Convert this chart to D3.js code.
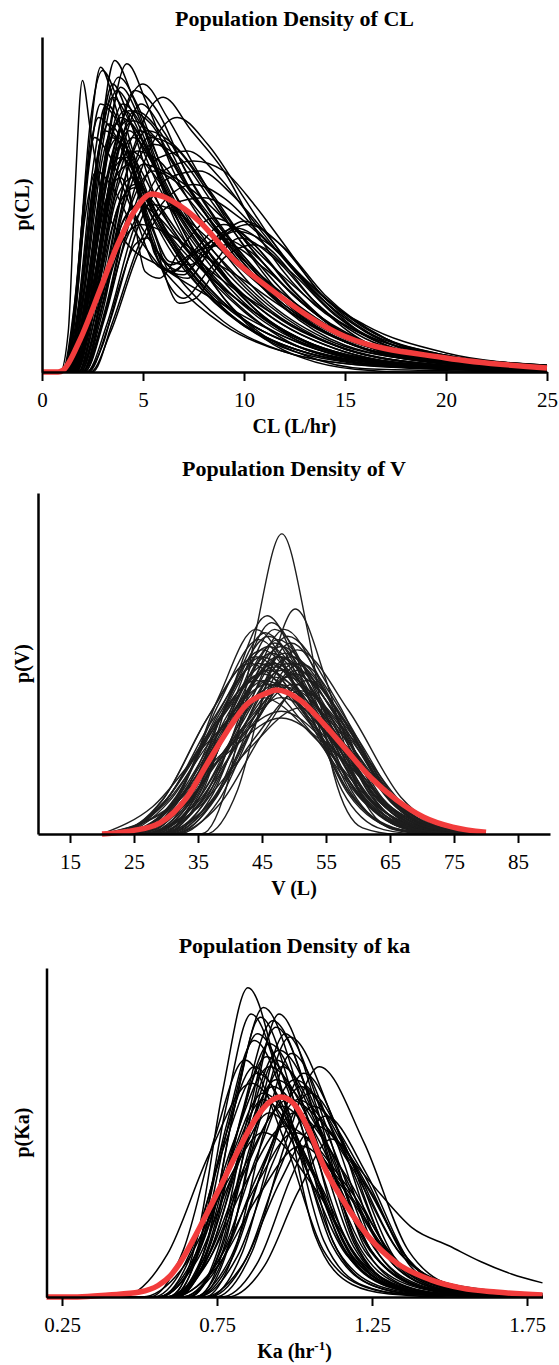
<!DOCTYPE html>
<html>
<head>
<meta charset="utf-8">
<script src="https://cdn.jsdelivr.net/npm/d3@7.9.0/dist/d3.min.js"></script>
<style>
  body { margin: 0; background: #fff; }
  text { font-family: "Liberation Serif", "Times New Roman", serif; fill: #000; }
</style>
</head>
<body>
<svg id="chart" width="559" height="1365"></svg>
<script>
// ---- data: each curve is a list of [x, relative density] knots ----

// CL (L/hr)
const clTicks = [0, 5, 10, 15, 20, 25];
const clMean = [[0,0],[0.8,0],[1.06,0.6],[1.88,9.6],[2.87,24.5],[3.7,37.4],[4.52,47.5],[5.43,53.1],[6.83,49.6],[7.82,44.8],[9.47,33.7],[11.1,25.7],[15,10.6],[20,4.2],[25,1.2]];
const clCurves = [
  [[0,0],[0.9,0],[1.3,12],[1.6,50],[2.0,87],[2.4,72],[3.0,52],[4,40],[6,31],[9,20],[13,8],[18,2],[25,0.5]],
  [[0,0],[1.2,0],[1.7,20],[2.3,65],[2.9,91],[3.6,80],[4.5,60],[6,40],[8,24],[11,10],[15,3],[20,0.8],[25,0.2]],
  [[0,0],[1.3,0],[2,20],[2.8,65],[3.6,93],[4.5,82],[6,58],[8,38],[10,22],[13,9],[17,3],[25,0.5]],
  [[0,0],[1.5,0],[2.3,18],[3.2,65],[4.2,92],[5.2,80],[6.5,60],[8.5,40],[11,22],[14,10],[18,4],[25,1]],
  [[0,0],[1.6,0],[2.5,20],[3.6,65],[5,86],[6.2,76],[7.5,62],[9.5,42],[12,22],[15,10],[20,3.5],[25,1.2]],
  [[0,0],[1.8,0],[2.8,18],[4.2,60],[6,82],[7.4,72],[9,60],[11,38],[13.5,20],[16,11],[20,5],[25,2]],
  [[0,0],[2,0],[3,15],[4.6,55],[6.7,76],[8.2,68],[10,52],[12,34],[15,15],[18,7],[25,2]],
  [[0,0],[1.1,0],[1.8,20],[2.5,60],[3.2,80],[4,72],[5.2,52],[7,32],[9.5,16],[13,6],[18,1.5],[25,0.3]],
  [[0,0],[1.2,0],[2.0,15],[3.0,60],[3.9,85],[4.8,76],[6.2,52],[8,32],[10.5,16],[14,5],[20,1],[25,0.3]],
  [[0,0],[1.4,0],[2.4,22],[3.4,58],[4.5,75],[5.6,70],[7.2,55],[9.5,36],[12,20],[15,9],[20,3],[25,1]],
  [[0,0],[1.0,0],[1.6,18],[2.1,52],[2.6,70],[3.3,65],[4.5,48],[6.5,30],[9,15],[12,6],[16,2],[25,0.2]],
  [[0,0],[1.3,0],[2.1,18],[2.8,50],[3.4,70],[4.3,66],[5.8,50],[8,32],[11,15],[15,5],[20,1.5],[25,0.5]],
  [[0,0],[1.5,0],[2.4,25],[3.3,60],[4.0,68],[4.8,55],[5.6,35],[6.5,30],[7.5,36],[9,44],[10.5,38],[12.5,24],[15,11],[19,4],[25,1]],
  [[0,0],[1.6,0],[2.6,25],[3.6,58],[4.4,62],[5.3,42],[6.2,27],[7.0,22],[8.2,30],[9.8,40],[11.5,34],[13.5,21],[16,10],[20,4],[25,1.5]],
  [[0,0],[1.8,0],[2.8,22],[3.8,50],[4.6,55],[5.5,40],[6.8,20.5],[7.6,22],[9,34],[10.5,38],[12.3,30],[14.5,17],[17,8],[21,3],[25,1.3]],
  [[0,0],[2.0,0],[3.0,18],[4.0,45],[4.8,50],[5.5,42],[6.3,30],[7.2,28],[8.5,38],[10,45],[11.8,38],[14,22],[17,9],[21,3],[25,1]],
  [[0,0],[2.2,0],[3.0,8],[3.8,25],[4.6,38],[5.2,40],[6,33],[7,30],[8.2,36],[9.6,42],[11.5,37],[13.5,24],[16,11],[20,4],[25,1.5]],
  [[0,0],[2.5,0],[3.5,15],[4.8,38],[6.2,52],[7.5,56],[9,52],[11,40],[13.5,25],[16,13],[20,5],[25,1.8]],
  [[0,0],[2.2,0],[3.2,14],[4.5,42],[6,60],[7.5,63],[9,60],[10.5,50],[12,38],[14,22],[16,14],[20,5.7],[25,2]],
  [[0,0],[1.9,0],[2.9,20],[4.2,55],[5.5,68],[6.8,64],[8.5,50],[10.5,34],[13,18],[16,8],[20,3],[25,1]],
  [[0,0],[1.2,0],[1.9,22],[2.6,58],[3.3,74],[4.1,68],[5.4,50],[7.2,33],[9.5,18],[12.5,8],[17,2.5],[25,0.5]],
  [[0,0],[1.0,0],[1.5,12],[2.1,45],[2.7,60],[3.4,56],[4.6,42],[6.5,27],[9,14],[12,6],[17,1.5],[25,0.2]],
  [[0,0],[2.1,0],[3.1,18],[4.3,48],[5.5,60],[6.8,56],[8.5,44],[10.5,30],[13,16],[16,7],[20,2.5],[25,0.8]],
  [[0,0],[1.4,0],[2.2,25],[3.1,62],[3.8,70],[4.5,48],[5.1,30],[5.8,28],[7,38],[8.5,46],[10.2,40],[12.3,25],[15,11],[19,3.5],[25,0.8]],
  [[0,0],[1.7,0],[2.6,28],[3.5,60],[4.2,64],[5.0,47],[6.0,31],[7.0,29],[8.2,38],[9.6,43],[11.4,36],[13.5,21],[16,9],[20,3],[25,1]],
  [[0,0],[1.1,0],[1.7,25],[2.4,75],[3.0,90],[3.7,82],[4.8,60],[6.5,38],[9,19],[12,8],[17,2],[25,0.3]],
  [[0,0],[1.3,0],[2.0,20],[2.9,68],[3.8,88],[4.7,80],[6,60],[8,38],[10.5,19],[14,6],[19,1.5],[25,0.3]],
  [[0,0],[1.5,0],[2.3,15],[3.4,55],[4.6,78],[5.8,72],[7.3,55],[9.5,35],[12,19],[15,8],[20,2.5],[25,0.8]],
  [[0,0],[1.6,0],[2.5,20],[3.5,55],[4.5,70],[5.5,62],[7,42],[9,22],[11,10],[13,4],[15.5,0.8],[18,0],[25,0]],
  [[0,0],[1.4,0],[2.2,18],[3.2,58],[4.2,75],[5.2,66],[6.6,45],[8.5,26],[10.5,13],[13,5],[16,1],[25,0]],
  [[0,0],[1.2,0],[1.9,20],[2.7,62],[3.5,82],[4.4,74],[5.8,55],[7.8,36],[10.5,18],[14,7],[19,2],[25,0.5]],
  [[0,0],[1.4,0],[2.2,20],[3.1,60],[4.0,80],[5.0,73],[6.5,54],[8.5,36],[11,20],[14.5,8],[19,2.5],[25,0.6]],
  [[0,0],[1.7,0],[2.6,22],[3.8,62],[4.9,80],[6.0,72],[7.6,55],[9.8,36],[12.5,19],[16,8],[20,3],[25,1]],
  [[0,0],[1.3,0],[2.0,25],[2.8,66],[3.5,86],[4.3,76],[5.5,54],[7.5,34],[10,18],[13.5,7],[18,2],[25,0.4]],
  [[0,0],[1.5,0],[2.4,28],[3.3,66],[4.1,78],[5.1,68],[6.6,50],[8.8,32],[11.5,17],[15,7],[20,2],[25,0.6]],
  [[0,0],[1.9,0],[2.9,22],[4.0,55],[5.2,72],[6.5,68],[8.2,55],[10.2,38],[12.8,21],[16,9],[20,3.5],[25,1.2]],
  [[0,0],[1.2,0],[1.8,18],[2.5,55],[3.1,72],[3.9,68],[5.1,52],[7,34],[9.5,18],[13,7],[18,2],[25,0.4]],
  [[0,0],[1.6,0],[2.5,24],[3.5,60],[4.3,72],[5.3,64],[6.8,46],[8.8,30],[11.2,17],[14.5,7],[19,2],[25,0.6]],
  [[0,0],[1.5,0],[2.3,22],[3.2,52],[3.9,58],[4.7,45],[5.5,33],[6.4,30],[7.5,35],[8.8,40],[10.3,36],[12.3,24],[15,11],[19,4],[25,1]],
  [[0,0],[1.8,0],[2.7,22],[3.7,52],[4.5,58],[5.3,46],[6.3,33],[7.3,32],[8.6,39],[10.2,44],[12,37],[14,23],[17,10],[21,3.5],[25,1.3]],
  [[0,0],[1.3,0],[2.1,24],[3.0,64],[3.7,74],[4.5,60],[5.4,40],[6.4,32],[7.6,36],[9.2,38],[11,31],[13.2,19],[16,8],[20,2.5],[25,0.7]],
  [[0,0],[2.0,0],[3.0,20],[4.1,50],[5.0,62],[6.0,60],[7.5,54],[9.3,44],[11.5,31],[14,18],[17,8],[21,3],[25,1.2]],
  [[0,0],[1.1,0],[1.7,20],[2.3,60],[2.9,80],[3.6,76],[4.7,58],[6.4,38],[8.8,20],[12,8],[17,2],[25,0.3]],
  [[0,0],[1.4,0],[2.2,18],[3.2,56],[4.3,78],[5.4,74],[6.9,58],[9,40],[11.5,22],[15,9],[20,3],[25,0.9]],
  [[0,0],[1.6,0],[2.5,18],[3.7,56],[4.8,72],[5.9,68],[7.4,54],[9.5,38],[12,22],[15.5,9],[20,3.5],[25,1.2]],
  [[0,0],[1.2,0],[2.0,22],[2.9,64],[3.7,84],[4.6,76],[6,56],[8,36],[10.5,19],[14,7],[19,2],[25,0.4]],
  [[0,0],[1.7,0],[2.6,20],[3.6,52],[4.7,66],[5.8,63],[7.2,52],[9.2,38],[11.8,24],[15,11],[19,4.5],[25,1.5]],
  [[0,0],[1.0,0],[1.6,20],[2.2,58],[2.8,76],[3.5,72],[4.7,55],[6.6,36],[9,20],[12.5,8],[17,2],[25,0.3]],
  [[0,0],[1.5,0],[2.4,20],[3.5,62],[4.6,84],[5.7,78],[7.1,60],[9.2,40],[11.8,22],[15,10],[20,3.2],[25,1]],
  [[0,0],[1.3,0],[2.1,20],[3.0,58],[3.9,76],[4.9,70],[6.3,52],[8.3,34],[11,18],[14.5,7],[19,2],[25,0.5]],
  [[0,0],[1.8,0],[2.7,18],[3.8,42],[4.8,50],[5.8,46],[7.2,36],[9,25],[11,16],[13.5,8],[17,3],[25,0.5]],
  [[0,0],[2.0,0],[3.0,15],[4.2,40],[5.4,50],[6.6,48],[8.2,40],[10,30],[12,20],[15,9],[19,3],[25,0.8]],
  [[0,0],[2.3,0],[3.3,14],[4.8,44],[6.3,58],[7.8,60],[9.4,53],[11,42],[13,27],[16,12],[20,4.5],[25,1.5]],
  [[0,0],[2.1,0],[3.1,16],[4.4,46],[5.8,64],[7.2,66],[8.8,58],[10.6,44],[12.8,28],[15.5,14],[20,5],[25,1.6]],
  [[0,0],[1.7,0],[2.6,20],[3.7,48],[4.6,56],[5.6,50],[7,38],[8.8,28],[11,19],[14,9],[18,3],[25,0.8]],
  [[0,0],[1.9,0],[2.8,16],[3.9,38],[4.9,44],[6,42],[7.6,36],[9.6,29],[12,19],[15,9],[19,3.5],[25,1]],
  [[0,0],[1.6,0],[2.5,22],[3.5,56],[4.4,66],[5.4,60],[6.9,47],[8.8,34],[11.2,20],[14.5,8],[19,2.5],[25,0.6]],
  [[0,0],[2.4,0],[3.4,12],[4.8,36],[6.4,50],[8,52],[9.8,46],[11.8,35],[14,22],[17,10],[21,3.5],[25,1.4]],
  [[0,0],[1.4,0],[2.2,22],[3.1,56],[3.9,64],[4.9,56],[6.2,42],[8,30],[10.5,18],[13.5,8],[18,2],[25,0.4]],
  [[0,0],[2.0,0],[2.9,18],[4.1,52],[5.3,70],[6.6,67],[8.2,54],[10.2,38],[12.6,22],[15.5,10],[20,3.5],[25,1.1]]
];

// V (L)
const vTicks = [15, 25, 35, 45, 55, 65, 75, 85];
const vMean = [[20,0],[24.8,1],[29,3.2],[33.3,10.8],[36.4,20.5],[39.5,30],[42.6,38],[45.7,41.3],[47.3,42.2],[50.9,39.3],[54.5,32.6],[58.2,24.6],[61.9,16.7],[66,10],[70.2,5],[74.8,2],[80,0.5]];
const vCurves = [
  [[20,0],[35.5,0],[40,17.6],[44,59],[48.1,88],[52.2,59],[56.2,17.6],[60.7,1.8],[66,0],[80,0]],
  [[20,0],[36.2,0],[41.2,13],[45.7,44],[50.2,66],[55.2,44],[60.1,13],[65.6,1.3],[71,0],[80,0]],
  [[20,0],[29,0],[35,12.8],[40.4,43],[45.8,64],[51.7,43],[57.5,12.8],[64,1.3],[70,0],[80,0]],
  [[20,0],[28.8,0],[35.3,12],[41.2,40],[47,60],[53.8,40],[60.5,12],[68,1.2],[74,0],[80,0]],
  [[20,0],[24.9,0],[31.9,11.4],[38.2,38],[44.5,57],[51.7,38],[58.9,11.4],[66.9,1.1],[74,0],[80,0]],
  [[20,0],[30.8,0],[37.3,11.6],[43.2,39],[49,58],[56.7,39],[64.3,11.6],[72.8,1.2],[80,0.2]],
  [[20,0],[25,0],[32.5,11],[39.3,37],[46,55],[53.7,37],[61.3,11],[69.8,1.1],[80,0.1]],
  [[20,0],[28.9,0],[35.9,10.6],[42.2,35.5],[48.5,53],[56.2,35.5],[63.8,10.6],[72.3,1.1],[80,0.2]],
  [[20,0],[21.6,0],[29.6,10.4],[36.8,35],[44,52],[51.7,35],[59.3,10.4],[67.8,1],[80,0]],
  [[20,0],[31.8,0],[38.3,10],[44.2,33.5],[50,50],[57.7,33.5],[65.3,10],[73.8,1],[80,0.3]],
  [[20,0],[23.2,0],[31.7,9.8],[39.4,32.8],[47,49],[55.1,32.8],[63.2,9.8],[72.2,1],[80,0.2]],
  [[20,0],[21.2,0],[29.7,9.4],[37.4,31.5],[45,47],[53.1,31.5],[61.2,9.4],[70.2,0.9],[80,0]],
  [[20,0],[26.6,0],[34.6,9.2],[41.8,30.8],[49,46],[57.1,30.8],[65.2,9.2],[74.2,0.9],[80,0.3]],
  [[20,0],[22.3,0],[31.3,8.8],[39.4,29.5],[47.5,44],[55.6,29.5],[63.7,8.8],[72.7,0.9],[80,0.2]],
  [[20,0],[24.2,0],[32.7,8],[40.4,26.8],[48,40],[56.6,26.8],[65.1,8],[74.6,0.8],[80,0.3]],
  [[20,0],[25.8,0],[34.8,7.4],[42.9,24.8],[51,37],[58.7,24.8],[66.3,7.4],[74.8,0.7],[80,0.2]],
  [[20,0],[30,6.8],[39,22.8],[48,34],[57,22.8],[66,6.8],[76,0.7],[80,0.4]],
  [[20,0],[31,0],[38.5,9],[45.3,30],[52,45],[59.2,30],[66.4,9],[74.4,0.9],[80,0]],
  [[20,0],[22,0],[29.5,10],[36.3,33.5],[43,50],[52,33.5],[61,10],[71,1],[80,0]],
  [[20,0],[29.7,0],[35.7,12.4],[41.1,41.5],[46.5,62],[52.8,41.5],[59.1,12.4],[66.1,1.2],[72,0],[80,0]],
  [[20,0],[31.3,0],[37.8,11.2],[43.7,37.5],[49.5,56],[56.3,37.5],[63,11.2],[70.5,1.1],[77,0],[80,0]],
  [[20,0],[28.6,0],[36.6,8.4],[43.8,28],[51,42],[59.1,28],[67.2,8.4],[76.2,0.8],[80,0.5]],
  [[20,0],[27.9,8],[36.5,26.8],[45,40],[54,26.8],[63,8],[73,0.8],[80,0.2]],
  [[20,0],[30,7.2],[39,24],[48,36],[56.6,24],[65.1,7.2],[74.6,0.7],[80,0.3]],
  [[20,0],[26.5,0],[34,10.4],[40.8,34.8],[47.5,52],[55.6,34.8],[63.7,10.4],[72.7,1],[80,0.1]],
  [[20,0],[23.1,0],[31.1,9],[38.3,30],[45.5,45],[54.1,30],[62.6,9],[72.1,0.9],[80,0.1]],
  [[20,0],[30.9,0],[37.9,10.8],[44.2,36],[50.5,54],[58.6,36],[66.7,10.8],[75.7,1.1],[80,0.4]],
  [[20,0],[25.8,0],[32.3,12],[38.2,40],[44,60],[51.2,40],[58.4,12],[66.4,1.2],[72,0],[80,0]],
  [[20,0],[26.4,0],[33.4,11.6],[39.7,39],[46,58],[53.2,39],[60.4,11.6],[68.4,1.2],[80,0]],
  [[20,0],[27,0],[34.5,11],[41.3,37],[48,55],[55.7,37],[63.3,11],[71.8,1.1],[80,0.1]],
  [[20,0],[27.1,0],[35.1,10.4],[42.3,35],[49.5,52],[57.2,35],[64.8,10.4],[73.3,1],[80,0.2]],
  [[20,0],[24,0],[31.5,10.8],[38.3,36],[45,54],[52.7,36],[60.3,10.8],[68.8,1.1],[80,0]],
  [[20,0],[24.6,0],[32.6,10],[39.8,33.5],[47,50],[55.1,33.5],[63.2,10],[72.2,1],[80,0.1]],
  [[20,0],[27.6,0],[35.6,9.4],[42.8,31.5],[50,47],[58.1,31.5],[66.2,9.4],[75.2,0.9],[80,0.3]],
  [[20,0],[20.8,0],[29.8,9.6],[37.9,32],[46,48],[54.1,32],[62.2,9.6],[71.2,1],[80,0]],
  [[20,0],[30.3,0],[36.8,12],[42.7,40],[48.5,60],[55.3,40],[62,12],[69.5,1.2],[80,0]],
  [[20,0],[27.9,0],[34.9,11.4],[41.2,38],[47.5,57],[54.7,38],[61.9,11.4],[69.9,1.1],[80,0]],
  [[20,0],[22.1,0],[30.1,10],[37.3,33.5],[44.5,50],[52.6,33.5],[60.7,10],[69.7,1],[80,0]],
  [[20,0],[30,0],[37.5,10],[44.3,33.5],[51,50],[58.2,33.5],[65.4,10],[73.4,1],[80,0.2]],
  [[20,0],[23.2,0],[31.7,9.2],[39.4,30.8],[47,46],[55.6,30.8],[64.1,9.2],[73.6,0.9],[80,0.2]],
  [[20,0],[23.8,0],[32.8,8.6],[40.9,28.8],[49,43],[57.6,28.8],[66.1,8.6],[75.6,0.9],[80,0.3]],
  [[20,0],[25.5,0],[33,10.6],[39.8,35.5],[46.5,53],[53.7,35.5],[60.9,10.6],[68.9,1.1],[80,0]],
  [[20,0],[28.4,0],[35.4,9.6],[41.7,32],[48,48],[55.7,32],[63.3,9.6],[71.8,1],[80,0.1]],
  [[20,0],[27.3,0],[33.8,11.8],[39.7,39.5],[45.5,59],[52.3,39.5],[59,11.8],[66.5,1.2],[80,0]],
  [[20,0],[26.2,0],[34.7,8.8],[42.4,29.5],[50,44],[58.1,29.5],[66.2,8.8],[75.2,0.9],[80,0.3]],
  [[20,0],[22.2,0],[30.7,10],[38.4,33.5],[46,50],[54.1,33.5],[62.2,10],[71.2,1],[80,0]],
  [[20,0],[25.6,0],[33.6,10.4],[40.8,35],[48,52],[55.2,35],[62.4,10.4],[70.4,1],[80,0]],
  [[20,0],[21.6,0],[29.6,9],[36.8,30],[44,45],[52.6,30],[61.1,9],[70.6,0.9],[80,0]],
  [[20,0],[29.5,0],[37,9.6],[43.8,32],[50.5,48],[58.2,32],[65.8,9.6],[74.3,1],[80,0.2]],
  [[20,0],[27.4,0],[34.4,11.2],[40.7,37.5],[47,56],[54.2,37.5],[61.4,11.2],[69.4,1.1],[80,0]],
  [[20,0],[20.8,0],[29.8,8.8],[37.9,29.5],[46,44],[55,29.5],[64,8.8],[74,0.9],[80,0.2]],
  [[20,0],[29.4,0],[36.4,10],[42.7,33.5],[49,50],[57.1,33.5],[65.2,10],[74.2,1],[80,0.2]],
  [[20,0],[24,0],[31.5,10.4],[38.3,35],[45,52],[53.1,35],[61.2,10.4],[70.2,1],[80,0]]
];

// Ka (1/hr)
const kaTicks = [0.25, 0.75, 1.25, 1.75];
const kaMean = [[0.2,0],[0.3,0],[0.4,0.6],[0.5,1.5],[0.56,3.5],[0.6,6.5],[0.63,10.3],[0.695,21.3],[0.76,33.4],[0.824,45.6],[0.87,53.5],[0.92,59.3],[0.955,60.8],[1.0,58.5],[1.05,50],[1.09,40.7],[1.17,27.4],[1.24,18.2],[1.33,10.3],[1.44,5.2],[1.54,2.7],[1.65,1.5],[1.8,0.6]];
const kaCurves = [
  [[0.2,0],[0.6,0],[0.688,18.8],[0.769,63],[0.85,94],[0.958,63],[1.066,18.8],[1.186,3.8],[1.306,0.9],[1.5,0],[1.8,0]],
  [[0.2,0],[0.62,0],[0.72,17.6],[0.81,59],[0.9,88],[1.026,59],[1.152,17.6],[1.292,3.5],[1.432,0.9],[1.8,0.1]],
  [[0.2,0],[0.622,0],[0.732,16.8],[0.831,56],[0.93,84],[1.065,56],[1.2,16.8],[1.35,3.4],[1.5,0.8],[1.8,0.1]],
  [[0.2,0],[0.677,0],[0.787,15.8],[0.886,53],[0.985,79],[1.129,53],[1.273,15.8],[1.433,3.2],[1.593,0.8],[1.8,0.2]],
  [[0.2,0],[0.744,0],[0.864,14],[0.972,47],[1.08,70],[1.224,47],[1.368,14],[1.528,2.8],[1.688,0.7],[1.8,0.3]],
  [[0.2,0],[0.6,0],[0.7,16],[0.79,53.6],[0.88,80],[1.015,53.6],[1.15,16],[1.3,3.2],[1.45,0.8],[1.8,0.1]],
  [[0.2,0],[0.614,0],[0.734,15],[0.842,50],[0.95,75],[1.103,50],[1.256,15],[1.426,3],[1.596,0.75],[1.8,0.2]],
  [[0.2,0],[0.556,0],[0.686,14],[0.803,47],[0.92,70],[1.082,47],[1.244,14],[1.424,2.8],[1.604,0.7],[1.8,0.2]],
  [[0.2,0],[0.636,0],[0.766,13.2],[0.883,44],[1,66],[1.171,44],[1.342,13.2],[1.532,2.6],[1.722,0.7],[1.8,0.5]],
  [[0.2,0],[0.6,0],[0.72,12],[0.85,42],[0.98,60],[1.1,52],[1.2,40],[1.28,31],[1.38,21],[1.5,15.5],[1.6,10.8],[1.7,7],[1.8,4.3]],
  [[0.2,0],[0.564,0],[0.684,12],[0.792,40],[0.9,60],[1.044,40],[1.188,12],[1.348,2.4],[1.508,0.6],[1.8,0]],
  [[0.2,0],[0.6,0],[0.75,9.2],[0.885,31],[1.02,46],[1.173,31],[1.326,9.2],[1.496,1.8],[1.666,0.5],[1.8,0.2]],
  [[0.2,0],[0.764,0],[0.884,11],[0.992,37],[1.1,55],[1.235,37],[1.37,11],[1.52,2.2],[1.67,0.6],[1.8,0.2]],
  [[0.2,0],[0.532,0],[0.642,14.4],[0.741,48],[0.84,72],[0.966,48],[1.092,14.4],[1.232,2.9],[1.372,0.7],[1.8,0]],
  [[0.2,0],[0.44,0],[0.59,13],[0.725,43.5],[0.86,65],[1.013,43.5],[1.166,13],[1.336,2.6],[1.506,0.65],[1.8,0.1]],
  [[0.2,0],[0.66,0],[0.76,16.4],[0.85,55],[0.94,82],[1.066,55],[1.192,16.4],[1.332,3.3],[1.472,0.8],[1.8,0.1]],
  [[0.2,0],[0.686,0],[0.816,12.4],[0.933,41.5],[1.05,62],[1.185,41.5],[1.32,12.4],[1.47,2.5],[1.62,0.6],[1.8,0.2]],
  [[0.2,0],[0.578,0],[0.718,10.4],[0.844,35],[0.97,52],[1.15,35],[1.33,10.4],[1.53,2.1],[1.73,0.5],[1.8,0.4]],
  [[0.2,0],[0.624,0],[0.719,17],[0.805,57],[0.89,85],[1.007,57],[1.124,17],[1.254,3.4],[1.384,0.85],[1.8,0]],
  [[0.2,0],[0.784,0],[0.904,9.6],[1.012,32],[1.12,48],[1.246,32],[1.372,9.6],[1.512,1.9],[1.652,0.5],[1.8,0.1]],
  [[0.2,0],[0.59,0],[0.69,15.6],[0.78,52],[0.87,78],[0.996,52],[1.122,15.6],[1.262,3.1],[1.402,0.8],[1.8,0]],
  [[0.2,0],[0.602,0],[0.712,14.6],[0.811,49],[0.91,73],[1.045,49],[1.18,14.6],[1.33,2.9],[1.48,0.7],[1.8,0.1]],
  [[0.2,0],[0.652,0],[0.762,14],[0.861,47],[0.96,70],[1.104,47],[1.248,14],[1.408,2.8],[1.568,0.7],[1.8,0.2]],
  [[0.2,0],[0.71,0],[0.81,14.8],[0.9,49.6],[0.99,74],[1.125,49.6],[1.26,14.8],[1.41,3],[1.56,0.7],[1.8,0.1]],
  [[0.2,0],[0.594,0],[0.714,12.8],[0.822,43],[0.93,64],[1.083,43],[1.236,12.8],[1.406,2.6],[1.576,0.6],[1.8,0.2]],
  [[0.2,0],[0.722,0],[0.832,13.6],[0.931,45.5],[1.03,68],[1.165,45.5],[1.3,13.6],[1.45,2.7],[1.6,0.7],[1.8,0.2]],
  [[0.2,0],[0.544,0],[0.664,13.6],[0.772,45.5],[0.88,68],[1.024,45.5],[1.168,13.6],[1.328,2.7],[1.488,0.7],[1.8,0.1]],
  [[0.2,0],[0.684,0],[0.779,17.2],[0.865,57.6],[0.95,86],[1.072,57.6],[1.193,17.2],[1.328,3.4],[1.463,0.9],[1.8,0.1]],
  [[0.2,0],[0.636,0],[0.766,11.2],[0.883,37.5],[1.0,56],[1.162,37.5],[1.324,11.2],[1.504,2.2],[1.684,0.6],[1.8,0.4]],
  [[0.2,0],[0.508,0],[0.648,10],[0.774,33.5],[0.9,50],[1.062,33.5],[1.224,10],[1.404,2],[1.584,0.5],[1.8,0.1]],
  [[0.2,0],[0.608,0],[0.698,17.2],[0.779,57.6],[0.86,86],[0.977,57.6],[1.094,17.2],[1.224,3.4],[1.354,0.9],[1.8,0]],
  [[0.2,0],[0.69,0],[0.79,16],[0.88,53.6],[0.97,80],[1.096,53.6],[1.222,16],[1.362,3.2],[1.502,0.8],[1.8,0.1]],
  [[0.2,0],[0.724,0],[0.844,11.6],[0.952,39],[1.06,58],[1.213,39],[1.366,11.6],[1.536,2.3],[1.706,0.6],[1.8,0.4]],
  [[0.2,0],[0.612,0],[0.722,15.4],[0.821,51.6],[0.92,77],[1.055,51.6],[1.19,15.4],[1.34,3.1],[1.49,0.8],[1.8,0.1]],
  [[0.2,0],[0.604,0],[0.724,13.2],[0.832,44],[0.94,66],[1.12,44],[1.3,13.2],[1.5,4],[1.7,1.5],[1.8,1]],
  [[0.2,0],[0.674,0],[0.794,12],[0.902,40],[1.01,60],[1.181,40],[1.352,12],[1.542,3],[1.732,1],[1.8,0.8]],
  [[0.2,0],[0.564,0],[0.684,12.4],[0.792,41.5],[0.9,62],[1.044,41.5],[1.188,12.4],[1.348,2.5],[1.508,0.6],[1.8,0.1]],
  [[0.2,0],[0.596,0],[0.726,11.6],[0.843,39],[0.96,58],[1.113,39],[1.266,11.6],[1.436,2.3],[1.606,0.6],[1.8,0.2]],
  [[0.2,0],[0.684,0],[0.804,12.8],[0.912,43],[1.02,64],[1.164,43],[1.308,12.8],[1.468,2.6],[1.628,0.6],[1.8,0.2]],
  [[0.2,0],[0.562,0],[0.672,14],[0.771,47],[0.87,70],[1.005,47],[1.14,14],[1.29,2.8],[1.44,0.7],[1.8,0]],
  [[0.2,0],[0.66,0],[0.76,14.4],[0.85,48],[0.94,72],[1.093,48],[1.246,14.4],[1.416,2.9],[1.586,0.7],[1.8,0.2]],
  [[0.2,0],[0.608,0],[0.748,10],[0.874,33.5],[1.0,50],[1.171,33.5],[1.342,10],[1.532,2],[1.722,0.5],[1.8,0.3]],
  [[0.2,0],[0.556,0],[0.686,11.2],[0.803,37.5],[0.92,56],[1.064,37.5],[1.208,11.2],[1.368,2.2],[1.528,0.6],[1.8,0.1]],
  [[0.2,0],[0.706,0],[0.836,10.4],[0.953,35],[1.07,52],[1.223,35],[1.376,10.4],[1.546,2.1],[1.716,0.5],[1.8,0.3]]
];

// ---- layout ----
const serif = '"Liberation Serif", "Times New Roman", serif';
const panels = [
  { title: 'Population Density of CL', ylab: 'p(CL)', xlab: ['CL (L/hr)'],
    xDomain: [0, 25], ticks: clTicks, fmt: d3.format('d'),
    left: 42, right: 547, top: 37, bottom: 372, titleY: 26,
    curves: clCurves, mean: clMean, stroke: '#000', width: 1.5 },
  { title: 'Population Density of V', ylab: 'p(V)', xlab: ['V (L)'],
    xDomain: [10, 90], ticks: vTicks, fmt: d3.format('d'),
    left: 38, right: 550, top: 493, bottom: 834, titleY: 476,
    curves: vCurves, mean: vMean, stroke: '#1e1e1e', width: 1.4 },
  { title: 'Population Density of ka', ylab: 'p(Ka)', xlab: ['Ka (hr', '-1', ')'],
    xDomain: [0.2, 1.8], ticks: kaTicks, fmt: d3.format('.2f'),
    left: 46.5, right: 542.5, top: 968, bottom: 1297, titleY: 953,
    curves: kaCurves, mean: kaMean, stroke: '#000', width: 1.5 }
];

const svg = d3.select('#chart');
svg.append('rect').attr('width', 559).attr('height', 1365).attr('fill', '#fff');

panels.forEach((p) => {
  const x = d3.scaleLinear().domain(p.xDomain).range([p.left, p.right]);
  const y = d3.scaleLinear().domain([0, 100]).range([p.bottom, p.top]);
  const line = d3.line()
    .x((d) => x(d[0]))
    .y((d) => y(d[1]))
    .curve(d3.curveMonotoneX);

  const g = svg.append('g');

  // individual densities
  g.append('g')
    .selectAll('path')
    .data(p.curves)
    .join('path')
    .attr('d', line)
    .attr('fill', 'none')
    .attr('stroke', p.stroke)
    .attr('stroke-width', p.width);

  // population density
  g.append('path')
    .datum(p.mean)
    .attr('d', line)
    .attr('fill', 'none')
    .attr('stroke', '#f23c3c')
    .attr('stroke-width', 5.5)
    .attr('stroke-linejoin', 'round');

  // axes
  const xAxis = d3.axisBottom(x)
    .tickValues(p.ticks)
    .tickFormat(p.fmt)
    .tickSize(9)
    .tickSizeOuter(0)
    .tickPadding(11);

  const xg = g.append('g')
    .attr('transform', `translate(0,${p.bottom})`)
    .call(xAxis);
  xg.attr('font-family', null).attr('font-size', null);
  xg.select('.domain').attr('stroke-width', 2.5);
  xg.selectAll('.tick line').attr('stroke-width', 2);
  xg.selectAll('.tick text').style('font-size', '21px').style('font-family', serif);

  const yg = g.append('g')
    .attr('transform', `translate(${p.left},0)`)
    .call(d3.axisLeft(y).tickValues([]).tickSizeOuter(0));
  yg.select('.domain').attr('stroke-width', 2.5);

  // titles and labels
  const cx = (p.left + p.right) / 2;
  g.append('text')
    .attr('x', cx)
    .attr('y', p.titleY)
    .attr('text-anchor', 'middle')
    .style('font-family', serif)
    .style('font-size', '22px')
    .style('font-weight', 'bold')
    .text(p.title);

  const xl = g.append('text')
    .attr('x', cx)
    .attr('y', p.bottom + 61)
    .attr('text-anchor', 'middle')
    .style('font-family', serif)
    .style('font-size', '20px')
    .style('font-weight', 'bold');
  xl.append('tspan').text(p.xlab[0]);
  if (p.xlab.length > 1) {
    xl.append('tspan').attr('dy', -8).style('font-size', '13px').text(p.xlab[1]);
    xl.append('tspan').attr('dy', 8).text(p.xlab[2]);
  }

  g.append('text')
    .attr('transform', `translate(29,${(p.top + p.bottom) / 2}) rotate(-90)`)
    .attr('text-anchor', 'middle')
    .style('font-family', serif)
    .style('font-size', '20px')
    .style('font-weight', 'bold')
    .text(p.ylab);
});
</script>
</body>
</html>
